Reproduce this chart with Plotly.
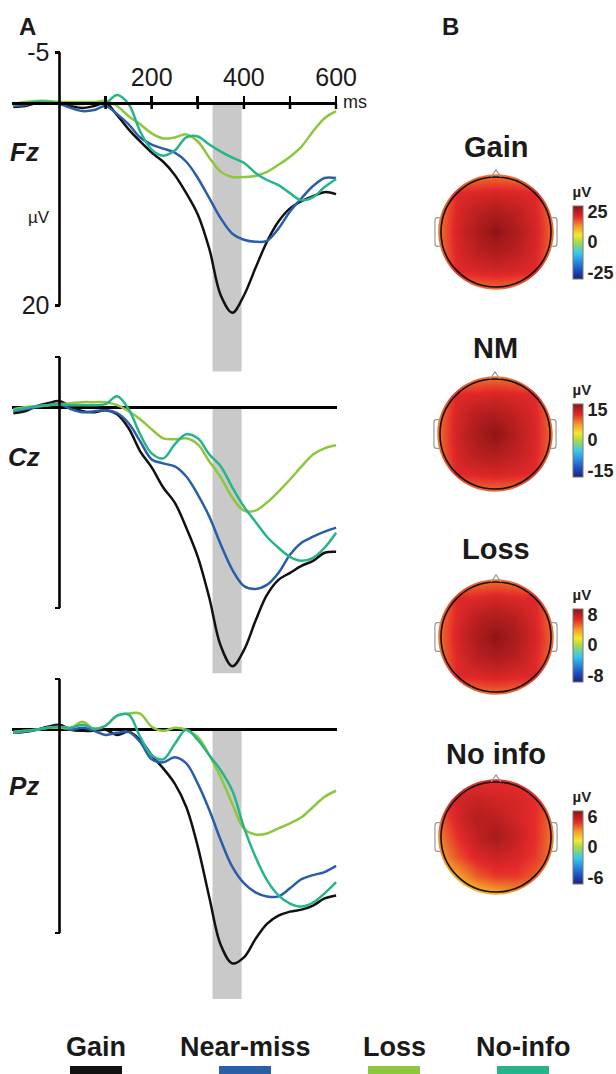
import plotly.graph_objects as go

W, H = 616, 1074
FONT = "Liberation Sans, Arial, sans-serif"

# ---------------- data ----------------
TIME_MS = list(range(-100, 601, 25))

FZ_GAIN = [0.4, 0.3, 0.0, -0.1, 0.0, 0.3, 0.5, 0.3, 0.0, 1.2, 2.6, 3.8, 4.9, 5.8, 7.1, 8.9,
           11.0, 14.4, 19.0, 20.7, 19.0, 16.3, 13.7, 11.7, 10.4, 9.7, 9.2, 8.8, 9.0]
FZ_NEARMISS = [0.3, 0.2, 0.0, 0.0, 0.1, 0.5, 0.8, 0.7, 0.3, 1.1, 2.1, 3.4, 4.1, 4.5, 4.9, 5.8,
               7.4, 9.4, 11.4, 12.9, 13.5, 13.7, 13.6, 12.4, 10.7, 9.4, 8.2, 7.4, 7.4]
FZ_LOSS = [0.1, -0.1, -0.2, -0.2, -0.1, -0.1, -0.1, -0.1, -0.2, 0.3, 1.3, 2.1, 3.0, 3.5, 3.4, 3.1,
           3.8, 5.4, 6.8, 7.3, 7.3, 7.2, 6.8, 6.1, 5.3, 4.3, 2.8, 1.5, 0.8]
FZ_NOINFO = [0.2, 0.0, -0.1, -0.1, 0.0, 0.1, 0.1, 0.0, 0.0, -0.8, 0.1, 2.8, 4.6, 5.2, 4.7, 3.4,
             3.3, 4.1, 4.8, 5.4, 5.9, 6.9, 7.6, 8.1, 8.9, 9.6, 9.3, 8.3, 7.5]

CZ_GAIN = [0.6, 0.4, -0.1, -0.4, -0.6, -0.1, 0.4, 0.5, 0.3, 0.7, 2.1, 4.4, 6.0, 8.0, 9.5, 12.0,
           14.9, 19.0, 23.8, 25.8, 24.2, 21.3, 18.7, 17.2, 16.5, 15.8, 15.3, 14.5, 14.4]
CZ_NEARMISS = [0.4, 0.2, 0.0, -0.2, -0.3, 0.2, 0.5, 0.4, 0.3, 0.6, 1.6, 3.4, 5.2, 5.6, 5.9, 6.9,
               8.7, 10.9, 13.7, 16.2, 17.8, 18.1, 17.7, 16.5, 14.7, 13.5, 12.9, 12.4, 12.0]
CZ_LOSS = [0.2, 0.0, -0.1, -0.2, -0.3, -0.4, -0.5, -0.5, -0.5, -0.2, 0.4, 1.2, 2.2, 3.1, 3.2, 3.1,
           3.7, 5.4, 7.0, 9.0, 10.3, 10.3, 9.5, 8.4, 7.2, 5.9, 4.7, 4.1, 3.8]
CZ_NOINFO = [0.3, 0.1, -0.1, -0.2, -0.3, -0.2, -0.2, -0.2, -0.3, -1.1, 0.2, 2.7, 4.6, 5.1, 3.7, 2.7,
             3.1, 4.7, 5.9, 8.0, 9.9, 11.4, 12.9, 14.0, 14.9, 15.3, 15.0, 14.0, 12.5]

PZ_GAIN = [0.3, 0.2, 0.0, -0.3, -0.5, 0.0, 0.1, 0.1, 0.0, 0.5, 0.2, 1.0, 2.5, 3.8, 5.3, 7.6,
           11.5, 16.5, 21.2, 23.0, 22.4, 20.6, 19.1, 18.3, 17.9, 17.7, 17.3, 16.6, 16.3]
PZ_NEARMISS = [0.3, 0.2, 0.0, -0.2, -0.3, 0.0, -0.2, 0.1, 0.5, 0.3, 0.2, 1.2, 2.9, 3.2, 2.7, 3.3,
               5.3, 7.9, 10.9, 13.5, 15.1, 16.0, 16.4, 16.4, 15.6, 14.7, 14.3, 14.0, 13.4]
PZ_LOSS = [0.2, 0.1, 0.0, -0.2, -0.2, -0.2, -0.8, -0.1, -0.4, -1.4, -1.6, -1.6, -0.3, 0.1, -0.2, 0.0,
           0.7, 2.5, 4.7, 7.3, 9.7, 10.3, 10.2, 9.7, 9.2, 8.6, 7.6, 6.6, 6.0]
PZ_NOINFO = [0.3, 0.1, 0.0, -0.2, -0.3, -0.2, -0.5, -0.1, -0.4, -1.4, -1.5, 0.7, 2.5, 2.9, 1.4, 0.0,
             1.0, 2.5, 4.0, 6.0, 9.6, 12.5, 14.8, 16.3, 17.1, 17.4, 17.0, 16.1, 15.0]

SITES = ["Fz", "Cz", "Pz"]
CONDITIONS = ["Gain", "Near-miss", "Loss", "No-info"]
SITE_SERIES = [
    [FZ_GAIN, FZ_NEARMISS, FZ_LOSS, FZ_NOINFO],
    [CZ_GAIN, CZ_NEARMISS, CZ_LOSS, CZ_NOINFO],
    [PZ_GAIN, PZ_NEARMISS, PZ_LOSS, PZ_NOINFO],
]
WINDOW_MS = [332, 395]
WINDOW_DEPTH_UV = 26.5
X_TICKS_MS = [100, 200, 300, 400, 500, 600]
X_TICK_LABELS = ["", "200", "", "400", "", "600"]
Y_AXIS_UV = [-5, 20]

# topographic maps (µV on a 7x7 scalp grid, rows bottom -> top)
TOPO_TITLES = ["Gain", "NM", "Loss", "No info"]
TOPO_SCALE = [25, 15, 8, 6]
TOPO_GRID = [-1.05, -0.7, -0.35, 0.0, 0.35, 0.7, 1.05]
TOPO_GAIN = [
    [12, 14, 15.6, 16, 15.6, 14, 12],
    [14, 21.6, 22.2, 22.8, 22.2, 21.6, 14],
    [15.6, 22.2, 25.0, 26.5, 25.0, 22.2, 15.6],
    [16, 22.8, 26.5, 29.5, 26.5, 22.8, 16],
    [15.6, 22.2, 25.0, 26.5, 25.0, 22.2, 15.6],
    [14, 21.6, 22.2, 22.8, 22.2, 21.6, 14],
    [12, 14, 15.6, 16, 15.6, 14, 12],
]
TOPO_NM = [
    [7.2, 8.4, 9.4, 9.6, 9.4, 8.4, 7.2],
    [8.4, 13.0, 13.3, 13.7, 13.3, 12.8, 8.4],
    [9.4, 13.5, 15.3, 15.8, 14.8, 13.3, 9.4],
    [9.6, 13.8, 16.0, 17.6, 15.5, 13.5, 9.6],
    [9.4, 13.5, 15.3, 15.8, 14.8, 13.3, 9.4],
    [8.4, 13.0, 13.3, 13.7, 13.3, 12.8, 8.4],
    [7.2, 8.4, 9.4, 9.6, 9.4, 8.4, 7.2],
]
TOPO_LOSS = [
    [3.8, 4.5, 5.0, 5.1, 5.0, 4.5, 3.8],
    [4.5, 6.9, 7.0, 7.3, 7.0, 6.9, 4.5],
    [5.0, 7.0, 8.1, 8.5, 8.1, 7.0, 5.0],
    [5.1, 7.3, 8.5, 9.4, 8.5, 7.3, 5.1],
    [5.0, 7.0, 8.1, 8.5, 8.1, 7.0, 5.0],
    [4.5, 6.9, 7.0, 7.3, 7.0, 6.9, 4.5],
    [3.8, 4.5, 5.0, 5.1, 5.0, 4.5, 3.8],
]
TOPO_NOINFO = [
    [1.0, 1.6, 2.2, 2.6, 3.0, 3.0, 2.6],
    [2.0, 3.0, 4.2, 4.8, 4.8, 4.2, 3.2],
    [3.0, 4.4, 5.3, 5.7, 5.4, 4.8, 3.6],
    [3.6, 5.0, 5.9, 6.5, 5.8, 5.0, 3.6],
    [4.2, 5.4, 6.2, 6.0, 5.5, 5.0, 3.8],
    [4.6, 5.5, 5.7, 5.5, 5.4, 5.0, 4.2],
    [4.4, 4.9, 5.0, 5.0, 4.9, 4.6, 4.0],
]
TOPO_DATA = [TOPO_GAIN, TOPO_NM, TOPO_LOSS, TOPO_NOINFO]

# ---------------- styling / layout ----------------
COLORS = ["#111111", "#2B5EA8", "#8DC63F", "#26B48C"]
JET = [[0.0, "#1a237e"], [0.12, "#1e4fc0"], [0.35, "#35c8f0"], [0.5, "#a8d84a"],
       [0.6, "#f6e82a"], [0.72, "#f39a2a"], [0.85, "#e52a2a"], [1.0, "#8a1414"]]
LINE_W = 2.5
AXIS_W = 2.6


def fx(px):
    return px / W


def fy(py):
    return 1 - py / H


def label(text, px, py, size, xanchor="center", **font):
    return dict(text=text, x=fx(px), y=fy(py), xref="paper", yref="paper",
                xanchor=xanchor, yanchor="middle", showarrow=False,
                font=dict(size=size, **font))


X0_PX, X_PX_PER_MS = 59.5, 0.461
X_RANGE = [-103, 603]
Y_RANGE = [27, -6]
PANEL_GEOM = [(103.0, 10.13), (407.2, 10.04), (729.8, 10.16)]  # zero pixel, px per µV

fig = go.Figure()
layout = dict(
    width=W, height=H, margin=dict(l=0, r=0, t=0, b=0, autoexpand=False),
    paper_bgcolor="white", plot_bgcolor="rgba(0,0,0,0)",
    showlegend=False, font=dict(family=FONT, color="#1a1a1a"),
)
shapes, annotations = [], []

for i, site in enumerate(SITES):
    n = i + 1
    xa, ya = f"xaxis{n}" if n > 1 else "xaxis", f"yaxis{n}" if n > 1 else "yaxis"
    xr, yr = (f"x{n}" if n > 1 else "x"), (f"y{n}" if n > 1 else "y")
    zero_px, scale = PANEL_GEOM[i]
    for c, cond in enumerate(CONDITIONS):
        fig.add_trace(go.Scatter(
            x=TIME_MS, y=SITE_SERIES[i][c], mode="lines", name=cond,
            line=dict(color=COLORS[c], width=LINE_W, shape="spline", smoothing=1.0),
            xaxis=xr, yaxis=yr, hoverinfo="skip"))
    xdom = [fx(X0_PX + X_RANGE[0] * X_PX_PER_MS), fx(X0_PX + X_RANGE[1] * X_PX_PER_MS)]
    ydom = [fy(zero_px + Y_RANGE[0] * scale), fy(zero_px + Y_RANGE[1] * scale)]
    if i == 0:
        layout[xa] = dict(domain=xdom, range=X_RANGE, anchor="free", position=fy(zero_px),
                          side="top", showline=True, linecolor="black", linewidth=AXIS_W,
                          ticks="outside", ticklen=6, tickwidth=AXIS_W, tickcolor="black",
                          tickvals=X_TICKS_MS, ticktext=X_TICK_LABELS,
                          tickfont=dict(size=25, family=FONT, color="#1a1a1a"),
                          showgrid=False, zeroline=False, fixedrange=True)
        for t in X_TICKS_MS:
            shapes.append(dict(type="line", xref=xr, yref=yr, x0=t, x1=t, y0=0, y1=0.6,
                               line=dict(color="black", width=AXIS_W)))
    else:
        layout[xa] = dict(domain=xdom, range=X_RANGE, anchor=yr, visible=False,
                          showgrid=False, zeroline=False, fixedrange=True)
    layout[ya] = dict(domain=ydom, range=Y_RANGE, anchor="free", position=fx(X0_PX),
                      showline=False, ticks="outside", ticklen=5, tickwidth=AXIS_W,
                      tickcolor="black", tickvals=Y_AXIS_UV,
                      ticktext=[str(v) for v in Y_AXIS_UV], showticklabels=(i == 0),
                      tickfont=dict(size=25, family=FONT, color="#1a1a1a"),
                      showgrid=False, zeroline=(i > 0), zerolinecolor="black",
                      zerolinewidth=AXIS_W, fixedrange=True)
    shapes.append(dict(type="rect", xref=xr, yref=yr, x0=WINDOW_MS[0], x1=WINDOW_MS[1],
                       y0=0, y1=WINDOW_DEPTH_UV, fillcolor="#C9C9C9", line=dict(width=0),
                       layer="below"))
    shapes.append(dict(type="line", xref=xr, yref=yr, x0=0, x1=0, y0=Y_AXIS_UV[0],
                       y1=Y_AXIS_UV[1], line=dict(color="black", width=AXIS_W)))

# site labels and axis text
for site, py in zip(SITES, [152, 457, 786]):
    annotations.append(label(f"<b><i>{site}</i></b>", 24, py, 26))
annotations.append(label("µV", 39, 218, 17))
annotations.append(label("ms", 341, 102, 18, xanchor="left"))
annotations.append(label("<b>A</b>", 27, 26, 24))
annotations.append(label("<b>B</b>", 451, 26, 24))

# ---------------- topographic maps ----------------
K = 0.5523


def circle_path(r):
    k = K * r
    return (f"M {r},0 C {r},{k} {k},{r} 0,{r} C {-k},{r} {-r},{k} {-r},0 "
            f"C {-r},{-k} {-k},{-r} 0,{-r} C {k},{-r} {r},{-k} {r},0 Z")


MAP_CENTERS = [(496, 232), (495, 434), (496, 637), (496, 837)]
TITLE_Y = [147, 348, 549, 754]
CBAR_Y = [241, 439, 644, 846]
CBAR_TITLE_PX = 20
HEAD_PX = 55
MAP_HALF = 1.25
for j, (title, z, tick) in enumerate(zip(TOPO_TITLES, TOPO_DATA, TOPO_SCALE)):
    n = 4 + j
    xr, yr = f"x{n}", f"y{n}"
    cx, cy = MAP_CENTERS[j]
    zmax = tick * 1.2
    fig.add_trace(go.Heatmap(
        x=TOPO_GRID, y=TOPO_GRID, z=z, zmin=-zmax, zmax=zmax, zsmooth="best",
        colorscale=JET, xaxis=xr, yaxis=yr, hoverinfo="skip",
        colorbar=dict(x=fx(573), xanchor="left", xpad=0,
                      y=fy(CBAR_Y[j] - CBAR_TITLE_PX / 2), yanchor="middle",
                      ypad=0, len=75 + CBAR_TITLE_PX, lenmode="pixels", thickness=10,
                      thicknessmode="pixels",
                      tickvals=[-tick, 0, tick], ticktext=[f"-{tick}", "0", f"{tick}"],
                      ticks="", tickfont=dict(size=18, weight="bold", color="#222"),
                      outlinewidth=1, outlinecolor="#777",
                      title=dict(text="µV", side="top",
                                 font=dict(size=15, weight="bold", color="#222")))))
    half_px = MAP_HALF * HEAD_PX
    layout[f"xaxis{n}"] = dict(domain=[fx(cx - half_px), fx(cx + half_px)],
                               range=[-MAP_HALF, MAP_HALF], visible=False, anchor=yr,
                               fixedrange=True)
    layout[f"yaxis{n}"] = dict(domain=[fy(cy + half_px), fy(cy - half_px)],
                               range=[-MAP_HALF, MAP_HALF], visible=False, anchor=xr,
                               fixedrange=True)
    m = MAP_HALF
    shapes.append(dict(type="path", xref=xr, yref=yr, layer="above",
                       path=f"M {-m},{-m} L {m},{-m} L {m},{m} L {-m},{m} Z " + circle_path(1.05),
                       fillrule="evenodd", fillcolor="white", line=dict(width=0)))
    shapes.append(dict(type="path", xref=xr, yref=yr, layer="above", path=circle_path(1.0),
                       line=dict(color="#111", width=1.6)))
    shapes.append(dict(type="path", xref=xr, yref=yr, layer="above",
                       path="M -0.09,1.0 L 0,1.13 L 0.09,1.0",
                       line=dict(color="#999", width=1.2)))
    for s in (1, -1):
        shapes.append(dict(type="path", xref=xr, yref=yr, layer="above",
                           path=(f"M {s*1.0},0.26 L {s*1.07},0.26 Q {s*1.11},0.26 {s*1.11},0.2 "
                                 f"L {s*1.11},-0.2 Q {s*1.11},-0.26 {s*1.07},-0.26 L {s*1.0},-0.26"),
                           line=dict(color="#999", width=1.2)))
    annotations.append(label(f"<b>{title}</b>", cx, TITLE_Y[j], 29))

# ---------------- bottom legend ----------------
LEGEND_CX = [96, 245, 394, 523]
for c, cond in enumerate(CONDITIONS):
    annotations.append(label(f"<b>{cond}</b>", LEGEND_CX[c], 1047, 27))
    shapes.append(dict(type="rect", xref="paper", yref="paper",
                       x0=fx(LEGEND_CX[c] - 26), x1=fx(LEGEND_CX[c] + 26),
                       y0=fy(1076), y1=fy(1066), fillcolor=COLORS[c], line=dict(width=0)))

layout["shapes"] = shapes
layout["annotations"] = annotations
fig.update_layout(**layout)
fig.write_html("out.html", config={"displayModeBar": False, "staticPlot": True})
